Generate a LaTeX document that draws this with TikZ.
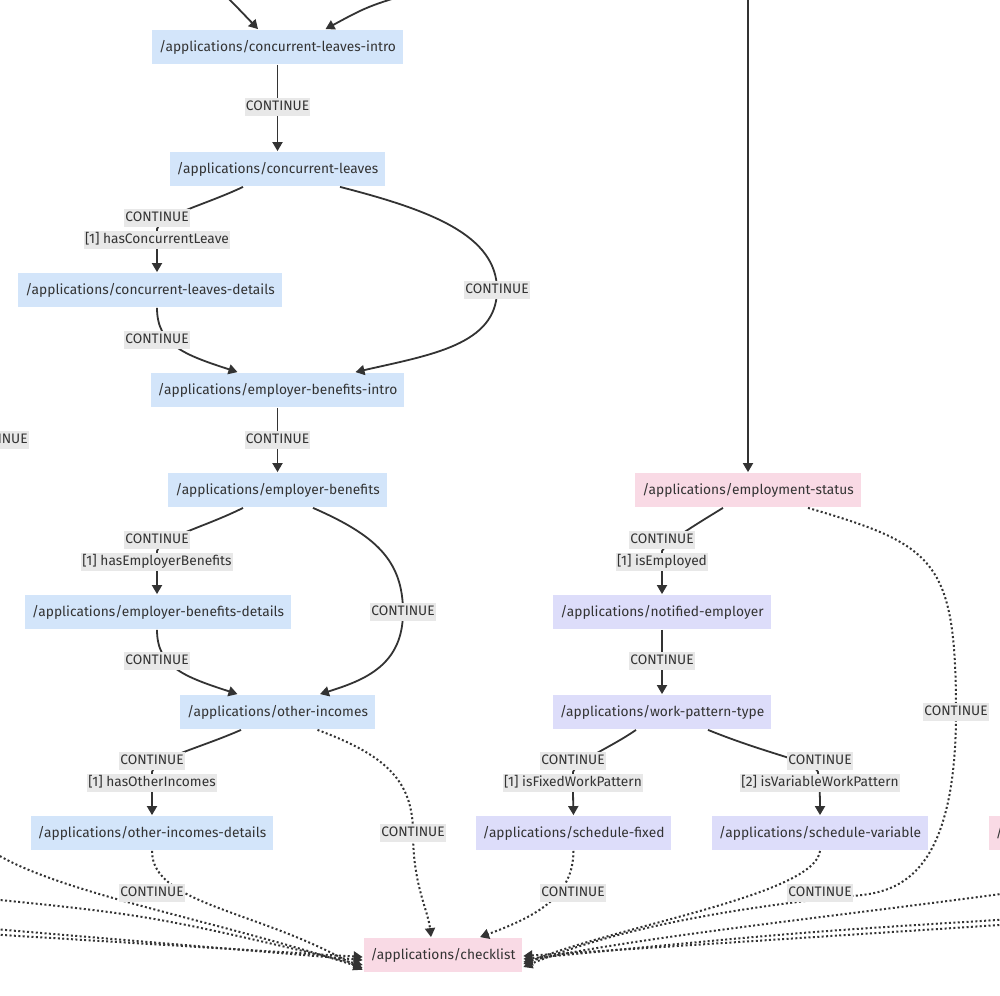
\documentclass[tikz,border=0pt]{standalone}
\usepackage{fontspec}
\setmainfont{Fira Sans}
\usetikzlibrary{arrows.meta}

\definecolor{ink}{HTML}{333333}
\definecolor{pageblue}{HTML}{D3E5FA}
\definecolor{pagepurple}{HTML}{DDDDFA}
\definecolor{pagepink}{HTML}{F9DAE5}
\definecolor{lblgray}{HTML}{E8E8E8}

\tikzset{every picture/.style={line width=1.8pt}}
\tikzset{
  page/.style={fill=#1, text=ink, inner xsep=7pt, inner ysep=0pt,
    minimum height=34pt, font=\fontsize{13.75}{16}\selectfont},
  bluepage/.style={page=pageblue},
  purplepage/.style={page=pagepurple},
  pinkpage/.style={page=pagepink},
  lbl/.style={fill=lblgray, text=ink, inner xsep=1pt, inner ysep=2pt,
    text height=10pt, text depth=3.5pt, font=\fontsize{13.75}{16}\selectfont},
  go/.style={draw=ink, -{Triangle[length=9pt,width=10pt]}},
  skip/.style={go, line width=2pt, dash pattern=on 2pt off 2.4pt},
}

\begin{document}
\begin{tikzpicture}[x=1pt,y=1pt,yscale=-1,xscale=1]

        \useasboundingbox (0,0) rectangle (1000,995);
        \fill[white] (0,0) rectangle (1000,995);
        \clip (0,0) rectangle (1000,995);

        % pages
        \node[bluepage] (intro) at (277.5,47) {/applications/concurrent-leaves-intro};
        \node[bluepage] (leaves) at (277.5,169) {/applications/concurrent-leaves};
        \node[bluepage] (leavesdet) at (150,290) {/applications/concurrent-leaves-details};
        \node[bluepage] (benintro) at (277.5,390) {/applications/employer-benefits-intro};
        \node[bluepage] (ben) at (277.5,490) {/applications/employer-benefits};
        \node[bluepage] (bendet) at (158,612) {/applications/employer-benefits-details};
        \node[bluepage] (inc) at (277.5,712) {/applications/other-incomes};
        \node[bluepage] (incdet) at (152,833) {/applications/other-incomes-details};
        \node[pinkpage] (check) at (443,955) {/applications/checklist};
        \node[pinkpage] (status) at (748,490) {/applications/employment-status};
        \node[purplepage] (notified) at (662,612) {/applications/notified-employer};
        \node[purplepage] (pattern) at (662,712) {/applications/work-pattern-type};
        \node[purplepage] (fixed) at (573.5,833) {/applications/schedule-fixed};
        \node[purplepage] (variable) at (820,833) {/applications/schedule-variable};
        \node[pinkpage,anchor=west] (offpage) at (988,833) {/applications/};

        % ends outside the frame
        \coordinate (topA) at (205,-25);
        \coordinate (topB) at (440,-15);
        \coordinate (topC) at (748,-10);
        \coordinate (leftA) at (-25,838);
        \coordinate (leftB) at (-30,897);
        \coordinate (leftC) at (-30,927);
        \coordinate (leftD) at (-30,933);
        \coordinate (rightA) at (1030,890);
        \coordinate (rightB) at (1030,918);
        \coordinate (rightC) at (1030,923);

        % label points
        \coordinate (k1) at (157,229);
        \coordinate (k2) at (497,290);
        \coordinate (k3) at (157,551);
        \coordinate (k4) at (403,612);
        \coordinate (k5) at (152,772);
        \coordinate (k6) at (413,833);
        \coordinate (k7) at (662,551);
        \coordinate (k8) at (956,712);
        \coordinate (k9) at (573,772);
        \coordinate (k10) at (818,772);

        \draw[go] (topA) .. controls (235,5) .. ([xshift=-19.5pt]intro.north);
        \draw[go] (topB) .. controls (370,5) .. ([xshift=48pt]intro.north);
        \draw[go] (topC) -- (status);

        \draw[go] (intro) -- (leaves);
        \draw[go] ([xshift=-34.5pt]leaves.south) .. controls (205,205) and (162,215) .. (k1) .. controls (157,250) .. ([xshift=7pt]leavesdet.north);
        \draw[go] ([xshift=62.5pt]leaves.south) .. controls (430,210) and (497,235) .. (k2) .. controls (497,345) and (430,355) .. ([xshift=78pt]benintro.north);
        \draw[go] ([xshift=7pt]leavesdet.south) .. controls (157,345) and (185,355) .. ([xshift=-40pt]benintro.north);
        \draw[go] (benintro) -- (ben);
        \draw[go] ([xshift=-34.5pt]ben.south) .. controls (205,527) and (162,537) .. (k3) .. controls (157,572) .. ([xshift=-1pt]bendet.north);
        \draw[go] ([xshift=35.5pt]ben.south) .. controls (375,535) and (403,560) .. (k4) .. controls (403,665) and (365,680) .. ([xshift=42.5pt]inc.north);
        \draw[go] ([xshift=-1pt]bendet.south) .. controls (157,667) and (185,677) .. ([xshift=-40pt]inc.north);
        \draw[go] ([xshift=-36.5pt]inc.south) .. controls (200,748) and (156,758) .. (k5) .. controls (152,793) .. (incdet.north);
        \draw[skip] ([xshift=40pt]inc.south) .. controls (385,755) and (413,780) .. (k6) .. controls (413,885) and (428,910) .. ([xshift=-12pt]check.north);
        \draw[skip] (incdet.south) .. controls (152,905) and (260,910) .. ([yshift=15pt]check.west);

        \draw[skip] (leftA) .. controls (25,888) and (200,915) .. ([yshift=13pt]check.west);
        \draw[skip] (leftB) .. controls (150,915) .. ([yshift=10pt]check.west);
        \draw[skip] (leftC) -- ([yshift=5pt]check.west);
        \draw[skip] (leftD) -- ([yshift=2pt]check.west);

        \draw[go] ([xshift=-25pt]status.south) .. controls (690,528) and (666,543) .. (k7) .. controls (662,575) .. (notified.north);
        \draw[skip] ([xshift=60pt]status.south) .. controls (935,545) and (956,560) .. (k8) .. controls (956,900) and (880,893) .. (840,897) .. controls (700,912) and (600,935) .. ([yshift=12pt]check.east);
        \draw[go] (notified) -- (pattern);
        \draw[go] ([xshift=-26pt]pattern.south) .. controls (610,748) and (578,760) .. (k9) .. controls (573,795) .. (fixed.north);
        \draw[go] ([xshift=46pt]pattern.south) .. controls (770,755) and (814,762) .. (k10) .. controls (820,795) .. (variable.north);
        \draw[skip] (fixed.south) .. controls (573,895) and (540,915) .. ([xshift=37pt]check.north);
        \draw[skip] (variable.south) .. controls (815,895) and (620,925) .. ([yshift=9pt]check.east);

        \draw[skip] (rightA) .. controls (850,915) and (650,935) .. ([yshift=7pt]check.east);
        \draw[skip] (rightB) .. controls (800,932) .. ([yshift=4pt]check.east);
        \draw[skip] (rightC) .. controls (800,938) .. ([yshift=1pt]check.east);

        % labels
        \node[lbl] (offlbl) at (-4,440) {CONTINUE};
        \node[lbl] (l1) at (277.5,107) {CONTINUE};
        \node[lbl] (l2) at (157,218) {CONTINUE};
        \node[lbl] (l3) at (157,240) {[1] hasConcurrentLeave};
        \node[lbl] (l4) at (497,290) {CONTINUE};
        \node[lbl] (l5) at (157,340) {CONTINUE};
        \node[lbl] (l6) at (277.5,440) {CONTINUE};
        \node[lbl] (l7) at (157,540) {CONTINUE};
        \node[lbl] (l8) at (157,562) {[1] hasEmployerBenefits};
        \node[lbl] (l9) at (403,612) {CONTINUE};
        \node[lbl] (l10) at (157,661) {CONTINUE};
        \node[lbl] (l11) at (152,761) {CONTINUE};
        \node[lbl] (l12) at (152,783) {[1] hasOtherIncomes};
        \node[lbl] (l13) at (413,833) {CONTINUE};
        \node[lbl] (l14) at (152,893) {CONTINUE};
        \node[lbl] (l15) at (662,540) {CONTINUE};
        \node[lbl] (l16) at (662,562) {[1] isEmployed};
        \node[lbl] (l17) at (956,712) {CONTINUE};
        \node[lbl] (l18) at (662,661) {CONTINUE};
        \node[lbl] (l19) at (573,761) {CONTINUE};
        \node[lbl] (l20) at (573,783) {[1] isFixedWorkPattern};
        \node[lbl] (l21) at (820,761) {CONTINUE};
        \node[lbl] (l22) at (820,783) {[2] isVariableWorkPattern};
        \node[lbl] (l23) at (573,893) {CONTINUE};
        \node[lbl] (l24) at (820,893) {CONTINUE};

        \end{tikzpicture}
\end{document}
